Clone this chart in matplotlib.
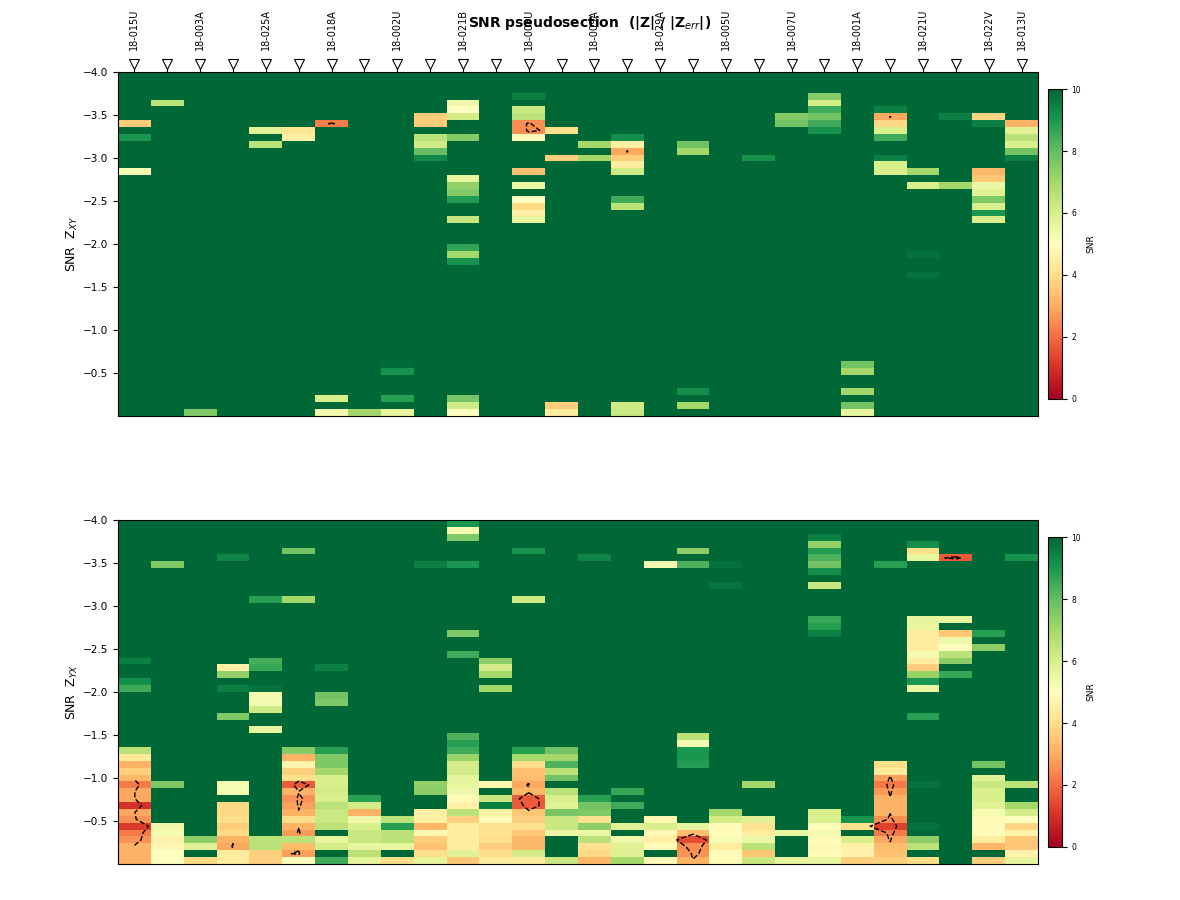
import numpy as np
import matplotlib
matplotlib.use("Agg")
import matplotlib.pyplot as plt
from matplotlib.transforms import blended_transform_factory

# stations along the profile (only every other name is printed on the plot)
stations = ["18-015U", "", "18-003A", "", "18-025A", "", "18-018A", "",
            "18-002U", "", "18-021B", "", "18-008U", "", "18-009A", "",
            "18-029A", "", "18-005U", "", "18-007U", "", "18-001A", "",
            "18-021U", "", "18-022V", "18-013U"]

# 50 period bins between -4 and 0
period_edges = np.linspace(-4.0, 0.0, 51)
SNR_CAP = 10.0   # everything not listed below is saturated (>= 10)

# SNR Zxy, one dict per station: {period index: snr}
snr_xy = [
    {7: 3.6, 9: 9.0, 14: 5.2},
    {4: 6.6},
    {49: 7.6},
    {},
    {8: 5.8, 10: 6.6},
    {8: 4.2, 9: 4.5},
    {7: 2.3, 47: 6.0, 49: 5.3},
    {49: 7.0},
    {42: 9.9, 43: 9.1, 47: 8.8, 49: 5.6},
    {6: 3.6, 7: 3.6, 9: 6.6, 10: 6.2, 11: 8.0, 12: 9.3},
    {4: 5.4, 5: 5.0, 6: 6.1, 9: 7.5, 15: 5.6, 16: 7.3, 17: 7.5, 18: 8.9,
     21: 6.4, 25: 8.7, 26: 7.0, 27: 9.1, 47: 7.7, 48: 6.2, 49: 5.0},
    {},
    {3: 9.5, 5: 6.3, 6: 6.6, 7: 2.5, 8: 2.5, 9: 4.9, 14: 3.4, 16: 5.5,
     18: 5.0, 19: 3.9, 20: 4.5, 21: 5.6},
    {8: 4.0, 12: 3.7, 48: 3.6, 49: 4.4},
    {10: 7.0, 12: 7.0},
    {9: 9.2, 10: 4.5, 11: 2.9, 12: 3.6, 13: 4.4, 14: 6.2, 18: 8.5, 19: 6.6,
     48: 6.2, 49: 6.3},
    {},
    {10: 7.8, 11: 7.0, 46: 9.2, 48: 7.0},
    {},
    {12: 9.1},
    {6: 7.5, 7: 7.8},
    {3: 7.5, 4: 6.1, 5: 8.5, 6: 7.8, 7: 8.5, 8: 9.1},
    {42: 7.8, 43: 7.0, 46: 7.0, 48: 7.8, 49: 5.6},
    {5: 9.5, 6: 2.9, 7: 3.9, 8: 6.0, 9: 8.5, 12: 9.5, 13: 6.0, 14: 6.0},
    {14: 7.0, 16: 6.0, 26: 9.8, 29: 9.8},
    {6: 9.5, 16: 7.0},
    {6: 3.8, 7: 9.5, 14: 3.2, 15: 3.5, 16: 5.5, 17: 5.8, 18: 7.6, 19: 6.0,
     20: 9.0, 21: 6.0},
    {7: 3.1, 8: 5.8, 9: 6.6, 10: 6.0, 11: 7.8, 12: 9.5},
]

# SNR Zyx
snr_yx = [
    {20: 9.5, 23: 9.2, 24: 8.5, 33: 6.6, 34: 4.3, 35: 3.1, 36: 3.7, 37: 3.2,
     38: 2.2, 39: 2.9, 40: 2.9, 41: 1.0, 42: 2.9, 43: 2.6, 44: 1.2, 45: 2.2,
     46: 2.6, 47: 3.1, 48: 3.1, 49: 3.1},
    {6: 7.6, 38: 7.6, 44: 5.4, 45: 5.3, 46: 4.6, 47: 4.8, 48: 5.0, 49: 5.0},
    {46: 7.4, 47: 5.8, 49: 3.9},
    {5: 9.4, 21: 4.5, 22: 7.3, 24: 9.5, 28: 7.6, 38: 5.2, 39: 5.2, 41: 3.9,
     42: 3.9, 43: 4.0, 44: 3.6, 45: 3.9, 46: 3.1, 47: 2.9, 48: 4.4, 49: 4.4},
    {11: 8.8, 20: 8.4, 21: 8.6, 24: 9.8, 25: 5.3, 26: 5.3, 27: 6.2, 30: 5.6,
     46: 6.6, 47: 6.6, 48: 3.7, 49: 3.7},
    {4: 7.8, 11: 7.0, 33: 7.5, 34: 3.1, 35: 4.6, 36: 3.7, 37: 4.0, 38: 1.7,
     39: 3.1, 40: 2.6, 41: 2.8, 42: 3.1, 43: 4.0, 44: 3.1, 45: 2.7, 46: 6.6,
     47: 3.3, 48: 2.8, 49: 5.0},
    {21: 9.5, 25: 7.8, 26: 7.6, 33: 8.8, 34: 7.6, 35: 7.6, 36: 7.0, 37: 6.0,
     38: 6.0, 39: 6.1, 40: 6.0, 41: 6.6, 42: 6.3, 43: 6.3, 44: 6.6, 46: 5.6,
     47: 6.1, 49: 8.5},
    {40: 8.8, 41: 6.1, 42: 3.1, 43: 5.4, 44: 6.0, 45: 6.3, 46: 6.3, 47: 5.6,
     48: 6.6, 49: 5.6},
    {43: 6.6, 44: 8.8, 45: 6.6, 46: 6.6, 47: 5.6, 49: 4.0},
    {6: 9.5, 38: 7.3, 39: 7.4, 42: 4.5, 43: 4.5, 44: 3.2, 45: 4.8, 46: 3.6,
     47: 3.4, 48: 4.0, 49: 5.6},
    {0: 9.0, 1: 5.3, 2: 7.6, 6: 9.0, 16: 7.6, 19: 8.5, 31: 8.3, 32: 8.8,
     33: 8.5, 34: 7.2, 35: 6.1, 36: 6.1, 37: 5.6, 38: 5.6, 39: 5.4, 40: 4.9,
     41: 4.5, 42: 6.6, 43: 3.7, 44: 4.4, 45: 4.4, 46: 4.4, 47: 4.4, 48: 5.8,
     49: 3.5},
    {20: 7.4, 21: 6.1, 22: 7.0, 24: 7.0, 38: 4.7, 40: 6.3, 41: 9.5, 42: 4.5,
     43: 4.9, 44: 4.1, 45: 4.1, 46: 4.0, 47: 3.6, 48: 4.0, 49: 4.4},
    {4: 9.1, 11: 6.2, 33: 8.8, 34: 7.0, 35: 4.0, 36: 3.4, 37: 3.3, 38: 2.9,
     39: 3.2, 40: 1.7, 41: 1.7, 42: 3.5, 43: 3.7, 44: 4.1, 45: 3.5, 46: 3.2,
     47: 3.2, 48: 6.1, 49: 4.4},
    {33: 7.8, 34: 7.0, 35: 8.3, 36: 6.6, 37: 7.8, 39: 6.6, 40: 6.0, 41: 5.8,
     42: 7.7, 43: 6.3, 44: 6.3, 45: 5.5, 49: 6.3},
    {5: 9.4, 40: 8.8, 41: 7.8, 42: 7.6, 43: 4.1, 44: 7.4, 45: 5.5, 46: 6.6,
     47: 4.1, 48: 3.9, 49: 3.2},
    {39: 8.6, 41: 8.5, 44: 5.8, 46: 5.4, 47: 5.8, 48: 5.8, 49: 7.0},
    {6: 5.3, 43: 4.7, 44: 6.0, 45: 4.8, 46: 4.5, 47: 4.9, 49: 4.9},
    {4: 7.4, 6: 8.3, 31: 6.6, 32: 5.3, 33: 9.0, 34: 9.0, 35: 8.9, 44: 5.6,
     45: 3.3, 46: 1.5, 47: 2.5, 48: 2.6, 49: 3.1},
    {6: 9.8, 9: 9.7, 42: 7.0, 43: 6.1, 44: 4.9, 45: 4.9, 46: 5.2, 47: 4.4,
     48: 4.9, 49: 4.9},
    {38: 7.0, 43: 5.8, 44: 4.1, 45: 4.4, 46: 5.5, 47: 6.6, 48: 3.5, 49: 6.3},
    {45: 5.6, 49: 5.6},
    {2: 9.5, 3: 7.3, 4: 8.9, 5: 8.3, 6: 7.8, 7: 9.2, 9: 6.3, 14: 8.6, 15: 8.8,
     16: 9.5, 42: 6.0, 43: 6.0, 44: 4.9, 45: 5.3, 46: 4.9, 47: 4.8, 48: 4.9,
     49: 5.6},
    {43: 9.1, 44: 4.1, 46: 6.0, 47: 4.5, 48: 4.6, 49: 3.7},
    {6: 8.8, 35: 4.0, 36: 4.3, 37: 2.8, 38: 2.2, 39: 2.7, 40: 3.1, 41: 3.1,
     42: 3.1, 43: 2.5, 44: 1.3, 45: 2.2, 46: 2.9, 47: 3.3, 48: 3.4, 49: 3.7},
    {3: 9.2, 4: 4.0, 5: 5.6, 14: 5.6, 15: 5.6, 16: 4.4, 17: 4.4, 18: 4.4,
     19: 5.3, 20: 4.4, 21: 3.6, 22: 7.2, 23: 9.0, 24: 5.5, 28: 8.8, 38: 9.8,
     44: 9.8, 46: 7.4, 47: 6.6, 49: 4.0},
    {5: 1.7, 14: 5.6, 16: 3.5, 17: 5.4, 18: 5.0, 19: 6.6, 20: 7.4, 22: 8.6},
    {16: 8.8, 18: 7.4, 35: 7.8, 37: 5.8, 38: 6.3, 39: 6.0, 40: 6.0, 41: 5.8,
     42: 5.3, 43: 4.9, 44: 4.9, 45: 4.9, 46: 4.4, 47: 3.2, 49: 3.7},
    {5: 9.1, 38: 6.6, 41: 7.0, 42: 6.1, 43: 5.0, 44: 3.8, 45: 4.6, 46: 3.5,
     47: 3.5, 48: 4.6, 49: 5.6},
]


def to_grid(columns):
    """Turn the per-station dicts into a (period, station) array"""
    grid = np.full((len(period_edges) - 1, len(columns)), SNR_CAP)
    for j, col in enumerate(columns):
        for i, val in col.items():
            grid[i, j] = val
    return grid


x_edges = np.arange(len(stations) + 1) - 0.5
x_mid = np.arange(len(stations))
y_mid = 0.5 * (period_edges[:-1] + period_edges[1:])

fig = plt.figure(figsize=(11.8, 9), dpi=100)
ax_xy = fig.add_axes([0.1, 0.5378, 0.7797, 0.3822])
ax_yx = fig.add_axes([0.1, 0.04, 0.7797, 0.3822])
cax_xy = fig.add_axes([0.888, 0.5567, 0.0119, 0.3444])
cax_yx = fig.add_axes([0.888, 0.0589, 0.0119, 0.3444])

panels = [(ax_xy, cax_xy, snr_xy, r"SNR  Z$_{XY}$"),
          (ax_yx, cax_yx, snr_yx, r"SNR  Z$_{YX}$")]

for ax, cax, cols, label in panels:
    grid = to_grid(cols)
    mesh = ax.pcolormesh(x_edges, period_edges, grid, cmap="RdYlGn",
                         vmin=0, vmax=10)
    ax.contour(x_mid, y_mid, grid, levels=[3.0], colors="k",
               linestyles="--", linewidths=1.0)
    ax.set_xlim(-0.5, len(stations) - 0.5)
    ax.set_ylim(0.0, -4.0)
    ax.set_yticks([-4.0, -3.5, -3.0, -2.5, -2.0, -1.5, -1.0, -0.5])
    ax.tick_params(axis="y", labelsize=7.5)
    ax.set_ylabel(label, fontsize=9, labelpad=2)
    ax.set_xticks([])
    cb = fig.colorbar(mesh, cax=cax, ticks=[0, 2, 4, 6, 8, 10])
    cb.ax.tick_params(labelsize=5.5)
    cb.set_label("SNR", fontsize=6.5)

# station markers and names above the top panel
ax_xy.xaxis.tick_top()
ax_xy.set_xticks(x_mid)
ax_xy.set_xticklabels([])
trans = blended_transform_factory(ax_xy.transData, ax_xy.transAxes)
ax_xy.plot(x_mid, np.full(len(stations), 1.023), "v", transform=trans,
           ms=6.5, mfc="white", mec="k", mew=0.8, clip_on=False)
for i, name in enumerate(stations):
    if name:
        ax_xy.text(i, 1.064, name, transform=trans, rotation=90,
                   ha="center", va="bottom", fontsize=7)

fig.suptitle(r"SNR pseudosection  (|Z| / |Z$_{err}$|)", fontweight="bold",
             fontsize=10, y=0.985)

fig.savefig("out.png", dpi=100)
